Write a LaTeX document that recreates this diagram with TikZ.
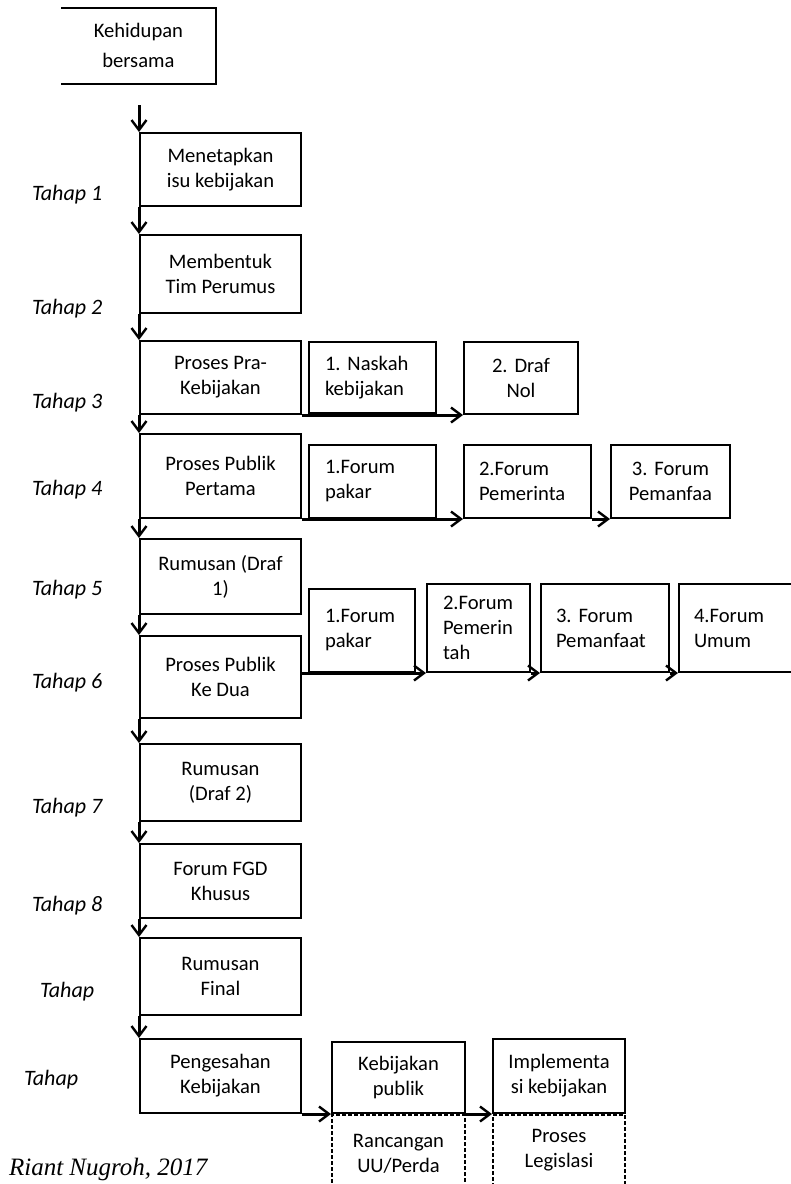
\documentclass[tikz,border=0pt]{standalone}
\usepackage{fontspec}
\setmainfont{Carlito}
\newfontfamily\timesfont{Liberation Serif}
\usetikzlibrary{arrows.meta}
\frenchspacing

\begin{document}
\begin{tikzpicture}[x=0.5pt,y=-0.5pt,font=\fontsize{10.3}{12.5}\selectfont]
	\tikzset{tahapbox/.style={draw,line width=1pt,anchor=north west,minimum width=80.5pt,align=center,inner sep=2pt}}
	\tikzset{subbox/.style={draw,line width=1pt,anchor=north west,inner xsep=8pt,inner ysep=2pt,align=left}}
	\tikzset{tahaplabel/.style={anchor=west,font=\itshape\fontsize{11}{13}\selectfont}}
	\tikzset{flow/.style={line width=1.5pt,-{Straight Barb[length=5pt,width=7.5pt,line width=1.2pt]}}}
	\tikzset{legis/.style={draw,line width=1pt,dash pattern=on 2pt off 1pt,anchor=north west,align=center,inner sep=2pt}}

	\useasboundingbox (0,0) rectangle (791,1184);

	% awal
	\node[anchor=north west,minimum width=77pt,minimum height=37.5pt,align=center,
	  font=\fontsize{10.3}{15}\selectfont] (hidup) at (61,8) {Kehidupan\\bersama};
	\draw[line width=1pt] (hidup.north west) -- (hidup.north east)
	  -- (hidup.south east) -- (hidup.south west);
	\coordinate (mulai) at (139,105);

	% tahap utama
	\node[tahapbox,minimum height=36.5pt] (isu) at (139,132) {Menetapkan\\isu kebijakan};
	\node[tahapbox,minimum height=39pt] (tim) at (139,234) {Membentuk\\Tim Perumus};
	\node[tahapbox,minimum height=36.5pt] (pra) at (139,340) {Proses Pra-\\Kebijakan};
	\node[tahapbox,minimum height=42pt] (publiksatu) at (139,433) {Proses Publik\\Pertama};
	\node[tahapbox,minimum height=37.5pt] (drafsatu) at (139,538) {Rumusan (Draf\\1)};
	\node[tahapbox,minimum height=41pt] (publikdua) at (139,635) {Proses Publik\\Ke Dua};
	\node[tahapbox,minimum height=38.5pt] (drafdua) at (139,743) {Rumusan\\(Draf 2)};
	\node[tahapbox,minimum height=37pt] (fgd) at (139,843) {Forum FGD\\Khusus};
	\node[tahapbox,minimum height=38.5pt] (final) at (139,937) {Rumusan\\Final};
	\node[tahapbox,minimum height=37pt] (sah) at (139,1038) {Pengesahan\\Kebijakan};

	\node[tahaplabel] (t1) at (25,195) {Tahap 1};
	\node[tahaplabel] (t2) at (25,309) {Tahap 2};
	\node[tahaplabel] (t3) at (25,403) {Tahap 3};
	\node[tahaplabel] (t4) at (25,490) {Tahap 4};
	\node[tahaplabel] (t5) at (25,590) {Tahap 5};
	\node[tahaplabel] (t6) at (25,683) {Tahap 6};
	\node[tahaplabel] (t7) at (25,808) {Tahap 7};
	\node[tahaplabel] (t8) at (25,906) {Tahap 8};
	\node[tahaplabel] (t9) at (33,992) {Tahap};
	\node[tahaplabel] (t10) at (17,1080) {Tahap};

	% cabang tahap 3
	\node[subbox,text width=47.5pt,minimum height=35.5pt] (naskah) at (308,341) {1. Naskah\\kebijakan};
	\node[subbox,text width=41pt,minimum height=36pt,align=center] (drafnol) at (463,341) {2. Draf\\Nol};

	% cabang tahap 4
	\node[subbox,text width=47.5pt,minimum height=36.5pt] (pakarsatu) at (308,444) {1.Forum\\pakar};
	\node[subbox,text width=48.5pt,minimum height=36.5pt,inner xsep=7.5pt] (pemsatu) at (463,444) {2.Forum\\Pemerinta};
	\node[subbox,text width=43.5pt,minimum height=36.5pt,align=center] (manfaatsatu) at (610,444) {3. Forum\\Pemanfaa};

	% cabang tahap 6
	\node[subbox,text width=37pt,minimum height=41.5pt] (pakardua) at (308,588) {1.Forum\\pakar};
	\node[subbox,text width=35.5pt,minimum height=44pt] (pemdua) at (426,583) {2.Forum\\Pemerin\\tah};
	\node[subbox,text width=49pt,minimum height=44pt,inner xsep=7.5pt] (manfaatdua) at (540,583) {3. Forum\\Pemanfaat\\[4pt]};
	\node[subbox,text width=50pt,minimum height=44pt,inner xsep=7.5pt] (umum) at (678,583) {4.Forum\\Umum\\[4pt]};

	% akhir
	\node[tahapbox,minimum width=66.5pt,minimum height=35.5pt] (kebpublik) at (331,1041) {Kebijakan\\publik};
	\node[tahapbox,minimum width=66pt,minimum height=37pt] (implementasi) at (492,1038) {Implementa\\si kebijakan};
	\node[legis,minimum width=66.5pt,minimum height=39pt] (rancangan) at (kebpublik.south west) {Rancangan\\UU/Perda};
	\node[legis,minimum width=66pt,minimum height=35pt] (legislasi) at (implementasi.south west) {Proses\\Legislasi};

	% alur
	\draw[flow] (mulai) -- (isu.north west);
	\draw[flow] (isu.south west) -- (tim.north west);
	\draw[flow] (tim.south west) -- (pra.north west);
	\draw[flow] (pra.south west) -- (publiksatu.north west);
	\draw[flow] (publiksatu.south west) -- (drafsatu.north west);
	\draw[flow] (drafsatu.south west) -- (publikdua.north west);
	\draw[flow] (publikdua.south west) -- (drafdua.north west);
	\draw[flow] (drafdua.south west) -- (fgd.north west);
	\draw[flow] (fgd.south west) -- (final.north west);
	\draw[flow] (final.south west) -- (sah.north west);

	\draw[flow] (pra.south east) -- (drafnol.south west);
	\draw[flow] (publiksatu.south east) -- (pemsatu.south west);
	\draw[flow] (pemsatu.south east) -- (manfaatsatu.south west);
	\draw[flow] (publikdua.east |- pemdua.south) -- (pemdua.south west);
	\draw[flow] (pemdua.south east) -- (manfaatdua.south west);
	\draw[flow] (manfaatdua.south east) -- (umum.south west);
	\draw[flow] (sah.south east) -- (kebpublik.south west);
	\draw[flow] (kebpublik.south east) -- (implementasi.south west);

	\node[anchor=base west,font=\timesfont\itshape\fontsize{12.5}{14}\selectfont] (sumber) at (2,1175) {Riant Nugroh, 2017};
\end{tikzpicture}
\end{document}
